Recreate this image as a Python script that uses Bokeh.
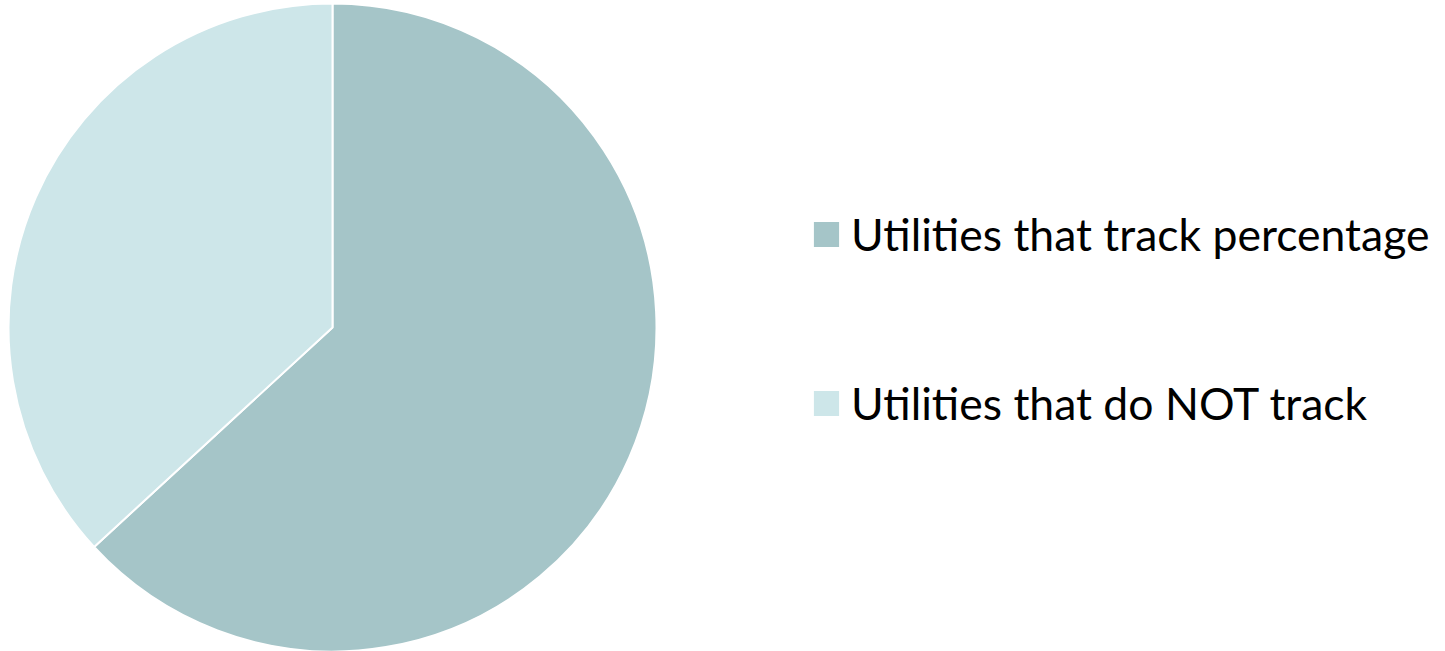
import math
from bokeh.plotting import figure
from bokeh.models import ColumnDataSource, Legend, LegendItem
from bokeh.embed import file_html
from bokeh.resources import INLINE

categories = ["Utilities that track percentage", "Utilities that do NOT track"]
values = [12, 7]
colors = ["#A5C5C8", "#CDE6E9"]

W, H = 1429, 651
total = float(sum(values))
ends, starts = [], []
acc = 0.0
for v in values:
    start = math.pi / 2 - 2 * math.pi * acc / total
    acc += v
    end = math.pi / 2 - 2 * math.pi * acc / total
    starts.append(end)
    ends.append(start)

p = figure(width=W, height=H, x_range=(0, W), y_range=(0, H),
           output_backend="svg", toolbar_location=None, min_border=0)
p.axis.visible = False
p.grid.visible = False
p.outline_line_color = None
p.background_fill_color = "white"
p.border_fill_color = "white"

cx, cy, r = 332, 324, 324
renderers = []
for i in range(len(values)):
    rr = p.wedge(x=cx, y=cy, radius=r, start_angle=starts[i], end_angle=ends[i],
                 fill_color=colors[i], line_color="white", line_width=2)
    renderers.append(rr)

legend = Legend(items=[LegendItem(label=categories[i], renderers=[renderers[i]]) for i in range(len(values))],
                location=(809, 222))
legend.glyph_width = 34
legend.glyph_height = 34
legend.label_standoff = 8
legend.spacing = 116
legend.padding = 0
legend.margin = 0
legend.border_line_color = None
legend.background_fill_alpha = 0
legend.label_text_font = "Lato"
legend.label_text_font_size = "44.5px"
legend.label_text_color = "black"
p.add_layout(legend, "center")

open("out.html", "w").write(file_html(p, INLINE))
